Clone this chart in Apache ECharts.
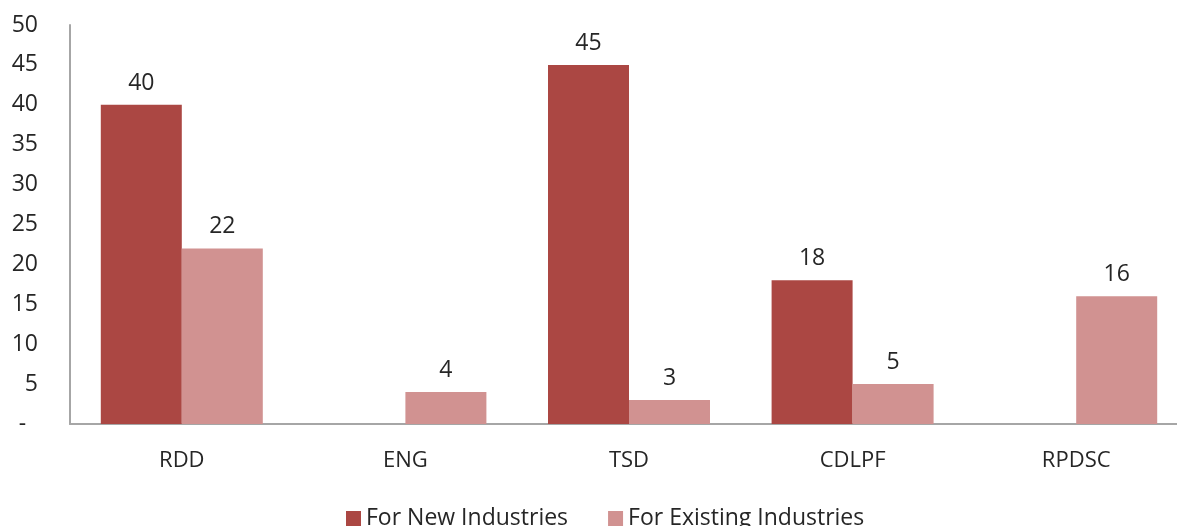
<!DOCTYPE html>
<html>
<head>
<meta charset="utf-8">
<script src="https://cdn.jsdelivr.net/npm/echarts@6/dist/echarts.min.js"></script>
<style>
  html, body { margin: 0; padding: 0; background: #fff; }
  #main { width: 1177px; height: 526px; }
</style>
</head>
<body>
<div id="main"></div>
<script>
const categories = ['RDD', 'ENG', 'TSD', 'CDLPF', 'RPDSC'];
const newIndustries = [40, null, 45, 18, null];
const existingIndustries = [22, 4, 3, 5, 16];

const chart = echarts.init(document.getElementById('main'));
const font = '"Open Sans", sans-serif';

const option = {
  animation: false,
  textStyle: {fontFamily: font},
  // plot area runs slightly past the right edge, like the original
  grid: {left: 70, width: 1118, top: 25, bottom: 102, outerBoundsMode: 'none', containLabel: false},
  legend: {
    left: 341,
    top: 502,
    itemWidth: 15,
    itemHeight: 15,
    itemGap: 40,
    icon: 'rect',
    textStyle: {fontFamily: font, fontSize: 23, color: '#262626'},
    data: ['For New Industries', 'For Existing Industries']
  },
  xAxis: {
    type: 'category',
    data: categories,
    axisLine: {lineStyle: {color: '#a6a6a6', width: 2}},
    axisTick: {show: false},
    axisLabel: {fontSize: 22, color: '#262626', margin: 26, fontFamily: font}
  },
  yAxis: {
    type: 'value',
    min: 0,
    max: 50,
    interval: 5,
    splitLine: {show: false},
    axisLine: {show: true, lineStyle: {color: '#a6a6a6', width: 2}},
    axisTick: {show: false},
    axisLabel: {
      fontSize: 23,
      color: '#262626',
      margin: 32,
      fontFamily: font,
      formatter: function (v) { return v === 0 ? '-  ' : v; }
    }
  },
  series: [
    {
      name: 'For New Industries',
      type: 'bar',
      data: newIndustries,
      barWidth: 81,
      barGap: '0%',
      itemStyle: {color: '#ab4743'},
      label: {show: true, position: 'top', distance: 10, fontSize: 23, color: '#262626', fontFamily: font}
    },
    {
      name: 'For Existing Industries',
      type: 'bar',
      data: existingIndustries,
      barWidth: 81,
      barGap: '0%',
      itemStyle: {color: '#d19291'},
      label: {show: true, position: 'top', distance: 10, fontSize: 23, color: '#262626', fontFamily: font}
    }
  ]
};

chart.setOption(option);
</script>
</body>
</html>
